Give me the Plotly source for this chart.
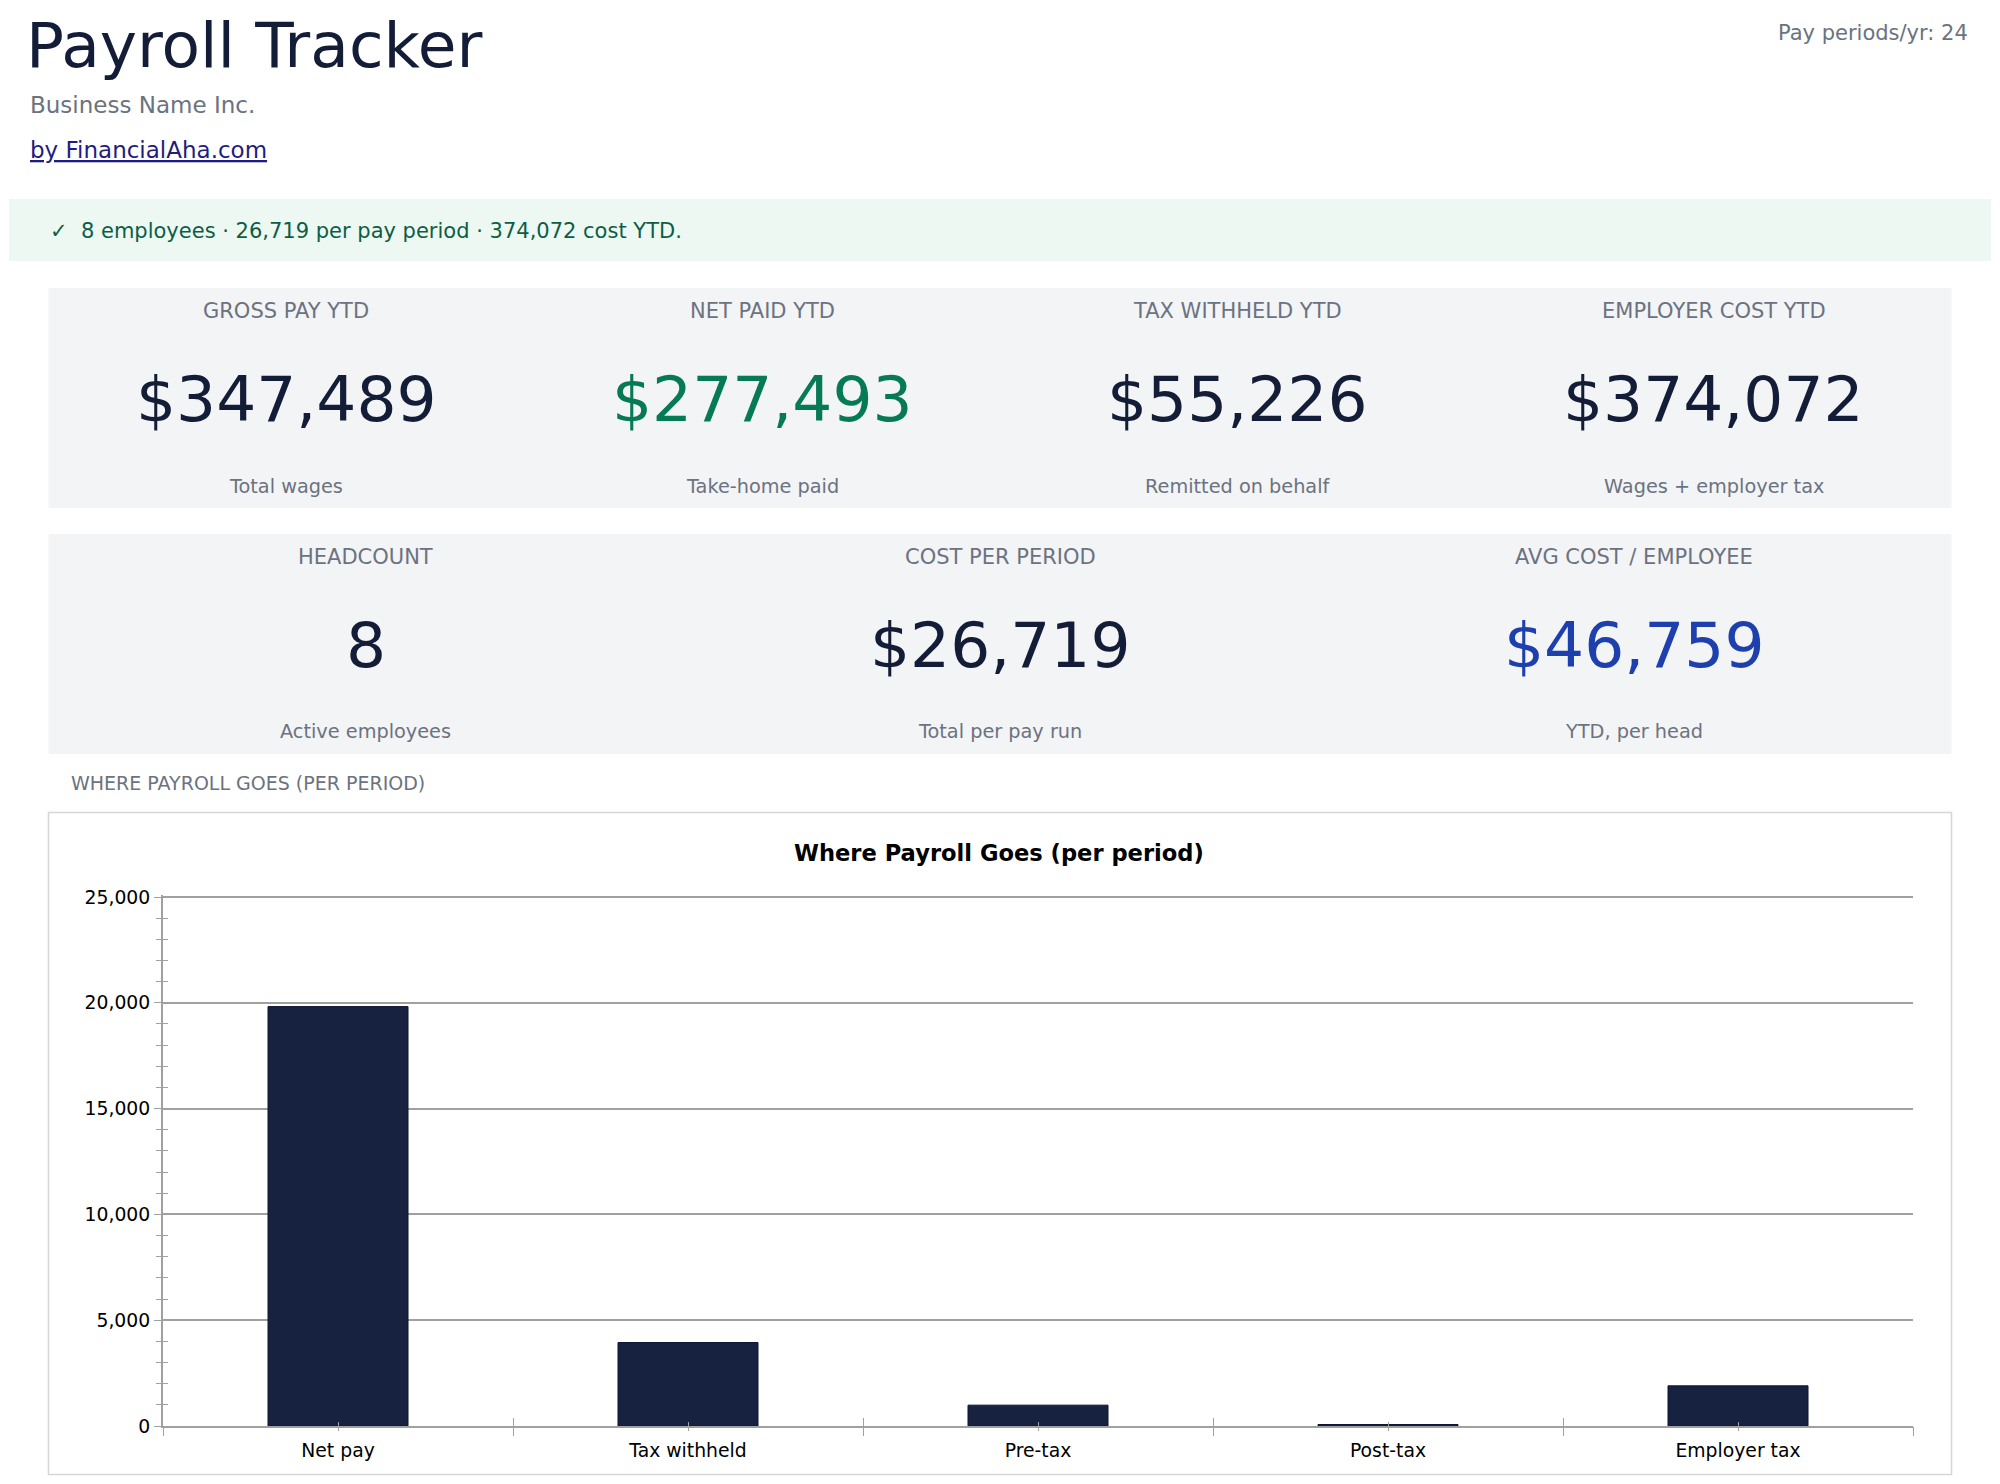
import plotly.graph_objects as go

# data
categories = ["Net pay", "Tax withheld", "Pre-tax", "Post-tax", "Employer tax"]
per_period = [19821, 3945, 985, 70, 1899]

kpi1_labels = ["GROSS PAY YTD", "NET PAID YTD", "TAX WITHHELD YTD", "EMPLOYER COST YTD"]
kpi1_values = ["$347,489", "$277,493", "$55,226", "$374,072"]
kpi1_subs = ["Total wages", "Take-home paid", "Remitted on behalf", "Wages + employer tax"]

kpi2_labels = ["HEADCOUNT", "COST PER PERIOD", "AVG COST / EMPLOYEE"]
kpi2_values = ["8", "$26,719", "$46,759"]
kpi2_subs = ["Active employees", "Total per pay run", "YTD, per head"]

summary = "✓  8 employees · 26,719 per pay period · 374,072 cost YTD."
pay_periods = "Pay periods/yr: 24"

W, H = 2000, 1484
OFF = 8  # page body margin pushes the figure by 8px
FONT = "DejaVu Sans"
NAVY = "#141d38"
GRAY = "#6b7280"
GREEN = "#067a55"
BLUE = "#1e40af"
BAR = "#162240"
AX = "#a0a0a0"


def px(x):
    return (x - OFF) / W


def py(y):
    return 1 - (y - OFF) / H


kpi1_colors = [NAVY, GREEN, NAVY, NAVY]
kpi2_colors = [NAVY, NAVY, BLUE]

n = len(categories)
idx = list(range(n))

fig = go.Figure()
fig.add_trace(go.Bar(x=categories, y=per_period, width=0.4,
                     marker=dict(color=BAR, line=dict(color="#0e1730", width=1)),
                     hoverinfo="x+y"))
# helper traces so the overlay tick axes get drawn
fig.add_trace(go.Scatter(x=idx, y=per_period, mode="none", xaxis="x2", yaxis="y",
                         hoverinfo="skip"))
fig.add_trace(go.Scatter(x=idx, y=per_period, mode="none", xaxis="x3", yaxis="y",
                         hoverinfo="skip"))
fig.add_trace(go.Scatter(x=categories, y=per_period, mode="none", xaxis="x", yaxis="y2",
                         hoverinfo="skip"))

shapes = []
ann = []


def text(x, y, s, size, color, xanchor="center", bold=False, yanchor="middle"):
    ann.append(dict(x=px(x), y=py(y), xref="paper", yref="paper", text=s,
                    showarrow=False, xanchor=xanchor, yanchor=yanchor, borderpad=0,
                    font=dict(family=FONT, size=size, color=color,
                              weight="bold" if bold else "normal")))


# header
text(24.5, OFF, "Payroll Tracker", 63, NAVY, "left", yanchor="top")
text(1969, 33, pay_periods, 21, GRAY, "right")
text(28.5, 105, "Business Name Inc.", 23, GRAY, "left")
text(28.5, 150, "<u>by FinancialAha.com</u>", 23, "#1f1d7e", "left")

# banner
shapes.append(dict(type="rect", xref="paper", yref="paper", x0=px(9), x1=px(1991),
                   y0=py(199), y1=py(261), fillcolor="#edf8f2", line=dict(width=0), layer="below"))
text(49, 231, summary, 21, "#0b5e45", "left")

# kpi cards
def kpi_row(top, bottom, labels, values, subs, colors):
    x0, x1 = 48.5, 1951.5
    shapes.append(dict(type="rect", xref="paper", yref="paper", x0=px(x0), x1=px(x1),
                       y0=py(top), y1=py(bottom), fillcolor="#f3f4f6", line=dict(width=0),
                       layer="below"))
    k = len(labels)
    cw = (x1 - x0) / k
    for i in range(k):
        cx = x0 + (i + 0.5) * cw
        text(cx, top + 23, labels[i], 21, GRAY)
        text(cx, top + 111, values[i], 63, colors[i])
        text(cx, top + 198, subs[i], 19.3, GRAY)


kpi_row(288, 508, kpi1_labels, kpi1_values, kpi1_subs, kpi1_colors)
kpi_row(534, 754, kpi2_labels, kpi2_values, kpi2_subs, kpi2_colors)

# chart section
text(69.5, 783, "WHERE PAYROLL GOES (PER PERIOD)", 19, GRAY, "left")
shapes.append(dict(type="rect", xref="paper", yref="paper", x0=px(48.5), x1=px(1951.5),
                   y0=py(812.5), y1=py(1474.5), fillcolor="rgba(0,0,0,0)",
                   line=dict(color="#d6d6d6", width=1.5), layer="below"))
text(999, 853, "Where Payroll Goes (per period)", 22.6, "#000000", bold=True)

# plot area: 0 at y=1426, 25,000 at y=897 (page px)
YMAX = 25100
y0_px, y25_px = 1426, 897
ytop_px = y0_px - (y0_px - y25_px) * YMAX / 25000
xr = [-0.5, n - 0.5]
yr = [0, YMAX]
xdom = [px(163), px(1913)]
ydom = [py(y0_px), py(ytop_px)]
tickfont = dict(family=FONT, size=18.8, color="#000000")

fig.update_layout(
    width=W, height=H,
    margin=dict(l=0, r=0, t=0, b=0, pad=0),
    paper_bgcolor="white", plot_bgcolor="white",
    showlegend=False,
    shapes=shapes, annotations=ann,
    xaxis=dict(domain=xdom, type="category", range=xr, showgrid=False, zeroline=False,
               showline=True, linecolor=AX, linewidth=2, ticks="", ticklabelstandoff=6,
               tickfont=tickfont, anchor="y", automargin=False),
    xaxis2=dict(domain=xdom, overlaying="x", anchor="y", range=xr, tick0=-0.5, dtick=1,
                ticks="inside", ticklen=8, tickcolor=AX, tickwidth=1.3,
                minor=dict(dtick=0.5, tick0=0, ticks="inside", ticklen=4, tickcolor=AX, tickwidth=1.3),
                showticklabels=False, showgrid=False, zeroline=False, showline=False,
                automargin=False),
    xaxis3=dict(domain=xdom, overlaying="x", anchor="y", range=xr, tick0=-0.5, dtick=1,
                ticks="outside", ticklen=9, tickcolor=AX, tickwidth=1.3,
                minor=dict(dtick=0.5, tick0=0, ticks="outside", ticklen=4, tickcolor=AX, tickwidth=1.3),
                showticklabels=False, showgrid=False, zeroline=False, showline=False,
                automargin=False),
    yaxis=dict(domain=ydom, range=yr, tick0=0, dtick=5000, tickformat=",",
               showgrid=True, gridcolor=AX, gridwidth=1.6, zeroline=False,
               showline=True, linecolor=AX, linewidth=2,
               ticks="outside", ticklen=7, tickcolor=AX, tickwidth=1.3,
               minor=dict(dtick=1000, ticks="outside", ticklen=5, tickcolor=AX, tickwidth=1.3),
               tickfont=tickfont, anchor="x", automargin=False),
    yaxis2=dict(domain=ydom, overlaying="y", anchor="x", range=yr, tick0=0,
                dtick=5000, ticks="", showticklabels=False, showgrid=False, zeroline=False,
                showline=False, automargin=False,
                minor=dict(dtick=1000, ticks="inside", ticklen=5, tickcolor=AX, tickwidth=1.3)),
)

fig.write_html("out.html")
